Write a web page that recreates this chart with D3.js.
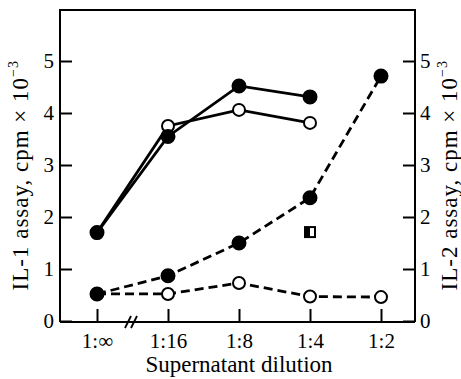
<!DOCTYPE html>
<html><head><meta charset="utf-8">
<script src="https://cdn.jsdelivr.net/npm/d3@7/dist/d3.min.js"></script>
<style>body{margin:0;background:#fff}svg{display:block}text{font-family:"Liberation Serif","DejaVu Serif",serif;fill:#000}</style>
</head><body><svg id="c" width="461" height="379"></svg>
<script>
const categories = ["1:\u221e", "1:16", "1:8", "1:4", "1:2"];
const yTicks = [0, 1, 2, 3, 4, 5];
const il1Filled = [1.7, 3.55, 4.52, 4.31];
const il1Open = [1.7, 3.75, 4.06, 3.81];
const il2Filled = [0.52, 0.87, 1.5, 2.37, 4.71];
const il2Open = [0.52, 0.52, 0.73, 0.47, 0.46];
const halfSquare = {cat: "1:4", value: 1.71};

const FONT = '"Liberation Serif","DejaVu Serif",serif';
const svg = d3.select("#c");
const L = 60, R = 415, T = 10, B = 322;
const x = d3.scalePoint().domain(categories).range([97, 381]);
const y = d3.scaleLinear().domain([0, 6]).range([321, 9]);

// frame
svg.append("path").attr("d", `M${L},${B}V${T}H${R}V${B}`).attr("fill","none").attr("stroke","#000").attr("stroke-width",2);

// bottom axis
const gx = svg.append("g").attr("transform", `translate(0,${B})`).call(d3.axisBottom(x).tickSize(-13).tickPadding(17));
gx.attr("font-family", FONT).attr("font-size", 21);
gx.select(".domain").attr("d", `M${L},0H${R}`).attr("stroke-width",2);
gx.selectAll(".tick line").attr("stroke-width",2);
gx.selectAll(".tick text").attr("dy","0.45em");
// axis break
[0, 6].forEach(o => svg.append("line").attr("x1",125+o).attr("y1",B+6).attr("x2",131+o).attr("y2",B-6).attr("stroke","#000").attr("stroke-width",1.8));

// left axis
const gl = svg.append("g").attr("transform", `translate(${L},0)`)
  .call(d3.axisLeft(y).tickValues(yTicks).tickFormat(d3.format("d")).tickSize(-12).tickPadding(6));
gl.attr("font-family", FONT).attr("font-size", 21);
gl.select(".domain").remove();
gl.selectAll(".tick line").attr("stroke-width",2);
// right axis
const gr = svg.append("g").attr("transform", `translate(${R},0)`)
  .call(d3.axisRight(y).tickValues(yTicks).tickFormat(d3.format("d")).tickSize(-12).tickPadding(5));
gr.attr("font-family", FONT).attr("font-size", 21);
gr.select(".domain").remove();
gr.selectAll(".tick line").attr("stroke-width",2);

// titles
function yTitle(tx, label, top) {
  const t = svg.append("text").attr("transform", `translate(${tx},${top}) rotate(-90)`).attr("text-anchor","end")
    .attr("font-size",23).attr("letter-spacing",1);
  t.append("tspan").text(label + " assay, cpm \u00d7 10");
  t.append("tspan").attr("font-size",14).attr("dy","-0.75em").text("\u22123");
}
yTitle(28, "IL-1", 60);
yTitle(457, "IL-2", 60);
svg.append("text").attr("x",239).attr("y",372).attr("text-anchor","middle").attr("font-size",23).text("Supernatant dilution");

// lines
const line = d3.line().x((d,i)=>x(categories[i])).y(d=>y(d));
function series(data, dashed, filled) {
  svg.append("path").datum(data).attr("d", line).attr("fill","none").attr("stroke","#000").attr("stroke-width",2.8)
    .attr("stroke-dasharray", dashed ? "9,5" : null);
  svg.selectAll(null).data(data).enter().append("circle")
    .attr("cx",(d,i)=>x(categories[i])).attr("cy",d=>y(d)).attr("r", filled?6.5:6)
    .attr("fill", filled?"#000":"#fff").attr("stroke","#000").attr("stroke-width",2);
}
series(il2Open, true, false);
series(il2Filled, true, true);
series(il1Open, false, false);
series(il1Filled, false, true);

// half-filled square
const sx = x(halfSquare.cat), sy = y(halfSquare.value);
svg.append("rect").attr("x",sx-5).attr("y",sy-5).attr("width",10).attr("height",10).attr("fill","#fff").attr("stroke","#000").attr("stroke-width",2);
svg.append("rect").attr("x",sx-5).attr("y",sy-5).attr("width",5).attr("height",10).attr("fill","#000");
</script></body></html>
